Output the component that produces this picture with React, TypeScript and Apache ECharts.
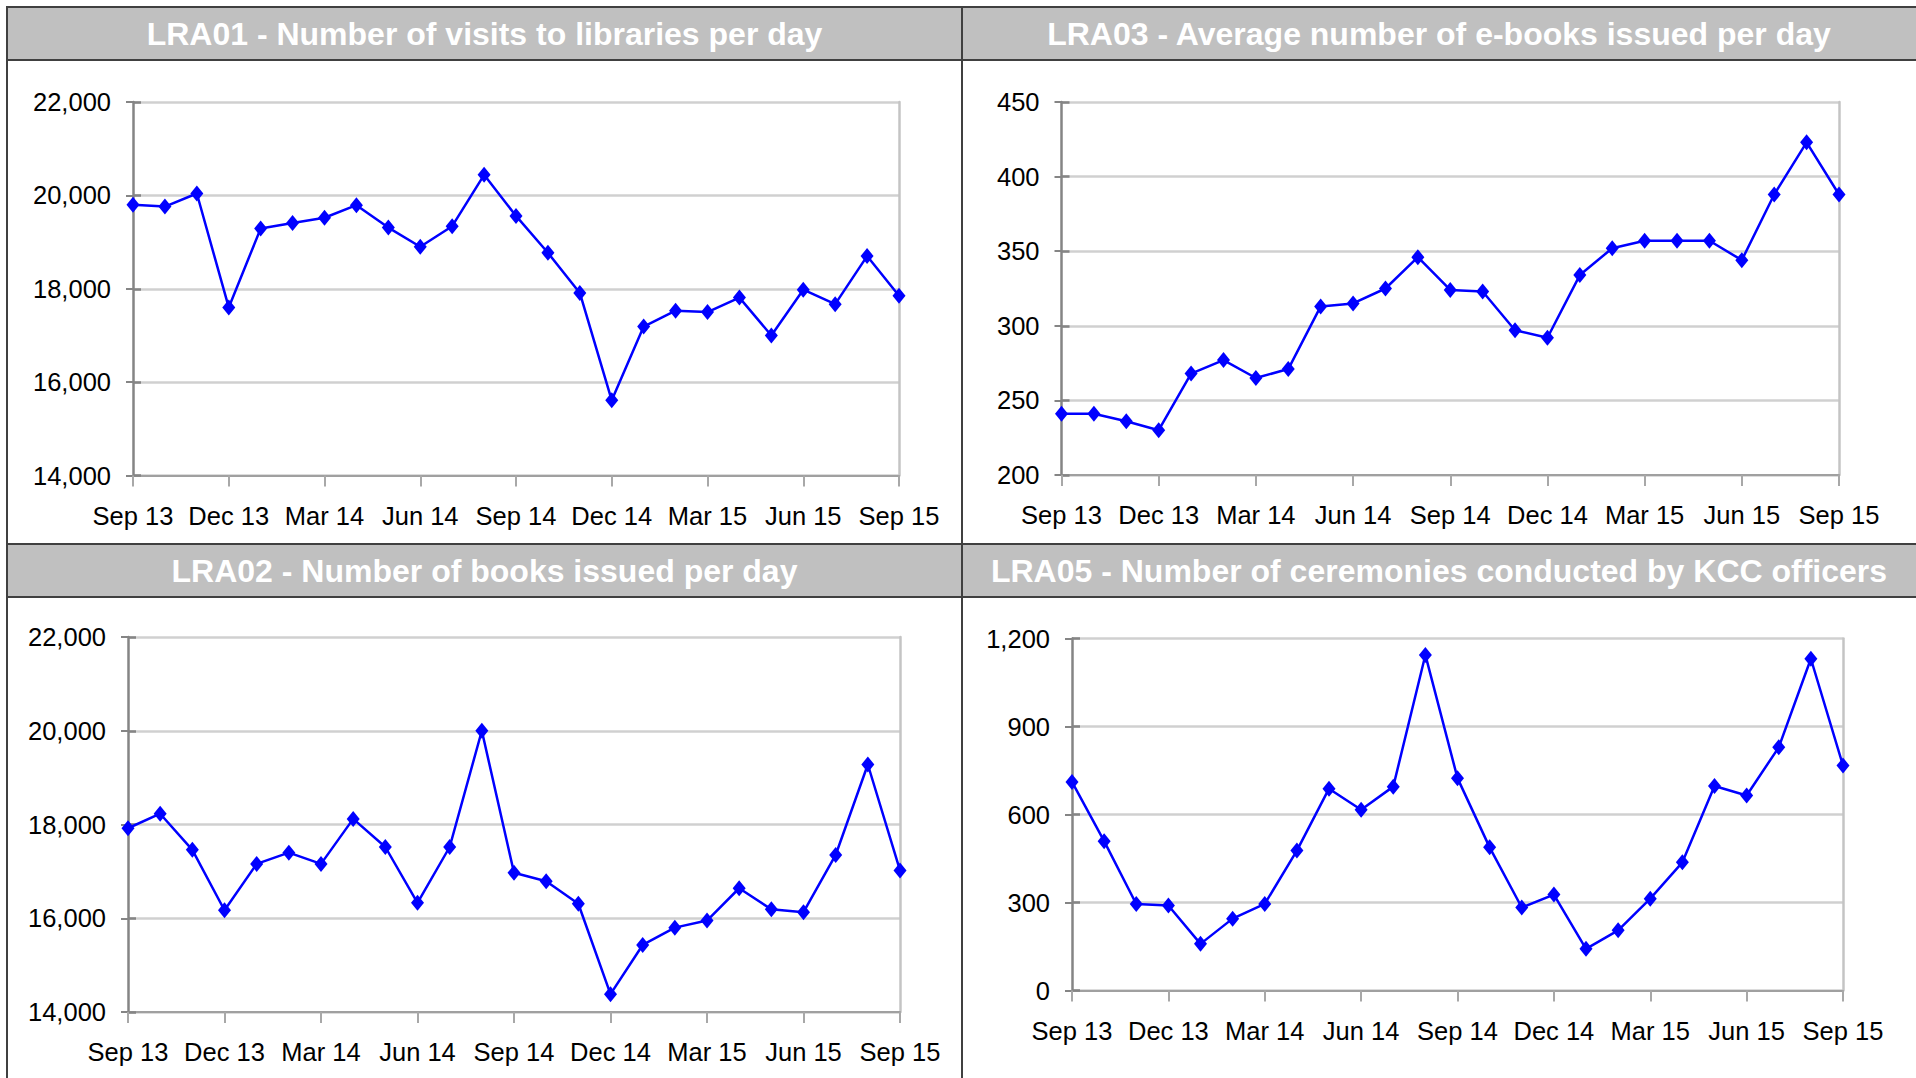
import React, { useEffect, useRef } from "react";
import * as echarts from "echarts";

const months = [
  "Sep 13", "Oct 13", "Nov 13", "Dec 13", "Jan 14", "Feb 14", "Mar 14", "Apr 14", "May 14",
  "Jun 14", "Jul 14", "Aug 14", "Sep 14", "Oct 14", "Nov 14", "Dec 14", "Jan 15", "Feb 15",
  "Mar 15", "Apr 15", "May 15", "Jun 15", "Jul 15", "Aug 15", "Sep 15",
];

const lra01 = [19800, 19760, 20040, 17600, 19290, 19410, 19520, 19790, 19310, 18900, 19340, 20440, 19560, 18770, 17910, 15610, 17190, 17530, 17500, 17810, 17000, 17980, 17670, 18700, 17850];
const lra03 = [241, 241, 236, 230, 268, 277, 265, 271, 313, 315, 325, 346, 324, 323, 297, 292, 334, 352, 357, 357, 357, 344, 388, 423, 388];
const lra02 = [17920, 18230, 17460, 16170, 17160, 17400, 17160, 18120, 17520, 16330, 17520, 20000, 16970, 16790, 16310, 14380, 15430, 15800, 15950, 16640, 16190, 16130, 17350, 19280, 17020];
const lra05 = [711, 509, 295, 290, 159, 245, 295, 477, 688, 616, 695, 1144, 724, 488, 283, 327, 142, 205, 313, 437, 697, 665, 829, 1131, 767];

const titles = [
  "LRA01 - Number of visits to libraries per day",
  "LRA03 - Average number of e-books issued per day",
  "LRA02 - Number of books issued per day",
  "LRA05 - Number of ceremonies conducted by KCC officers",
];
const seriesData = [lra01, lra03, lra02, lra05];
const yMin = [14000, 200, 14000, 0];
const yMax = [22000, 450, 22000, 1200];
const yStep = [2000, 50, 2000, 300];

const FONT = "'Liberation Sans', Arial, sans-serif";

export default function App() {
  const ref = useRef<HTMLDivElement>(null);
  useEffect(() => {
    if (!ref.current) return;
    const chart = echarts.init(ref.current, null, { renderer: "svg" });

    const grids = [
      { left: 133, top: 102, width: 766, height: 373.5 },
      { left: 1061.5, top: 102, width: 777.5, height: 373 },
      { left: 128, top: 637, width: 772, height: 375 },
      { left: 1072, top: 638.5, width: 771, height: 352 },
    ];

    const xAxes: any[] = [];
    const yAxes: any[] = [];
    const series: any[] = [];
    grids.forEach((g, i) => {
      xAxes.push({
        type: "category",
        gridIndex: i,
        data: months,
        boundaryGap: false,
        axisLine: { lineStyle: { color: "#a0a0a0", width: 2 } },
        axisTick: { show: true, interval: 2, length: 11, lineStyle: { color: "#a8a8a8", width: 2 } },
        axisLabel: { interval: 2, color: "#000", fontSize: 25.5, fontFamily: FONT, margin: 27 },
        splitLine: { show: false },
      });
      const fmt = (v: number) => v.toLocaleString("en-US");
      yAxes.push({
        type: "value",
        gridIndex: i,
        min: yMin[i],
        max: yMax[i],
        interval: yStep[i],
        position: "left",
        axisLine: { show: true, lineStyle: { color: "#858585", width: 2.5 } },
        axisTick: { show: true, length: 7, lineStyle: { color: "#858585", width: 2 } },
        axisLabel: { color: "#000", fontSize: 25.5, fontFamily: FONT, margin: 22, formatter: fmt },
        splitLine: { show: true, lineStyle: { color: "#d0d0d0", width: 2.5 } },
      });
      yAxes.push({
        type: "value",
        gridIndex: i,
        min: yMin[i],
        max: yMax[i],
        interval: yStep[i],
        position: "left",
        axisLine: { show: false },
        axisTick: { show: true, inside: true, length: 8, lineStyle: { color: "#858585", width: 2.5 } },
        axisLabel: { show: false },
        splitLine: { show: false },
      });
      yAxes.push({
        type: "value",
        gridIndex: i,
        min: yMin[i],
        max: yMax[i],
        interval: yStep[i],
        position: "right",
        axisLine: { show: true, lineStyle: { color: "#c4c4c4", width: 2.5 } },
        axisTick: { show: false },
        axisLabel: { show: false },
        splitLine: { show: false },
      });
      series.push({
        type: "line",
        xAxisIndex: i,
        yAxisIndex: i * 3,
        data: seriesData[i],
        symbol: "diamond",
        symbolSize: [13, 16],
        showSymbol: true,
        itemStyle: { color: "#0000ff" },
        lineStyle: { color: "#0000ff", width: 2.5 },
        z: 5,
      });
    });

    const dark = "#404040";
    const graphic: any[] = [
      { type: "rect", shape: { x: 7, y: 7, width: 1909, height: 53 }, style: { fill: "#c0c0c0" }, z: 0 },
      { type: "rect", shape: { x: 7, y: 544, width: 1909, height: 53 }, style: { fill: "#c0c0c0" }, z: 0 },
      { type: "line", shape: { x1: 7, y1: 7, x2: 1916, y2: 7 }, style: { stroke: dark, lineWidth: 2 }, z: 1 },
      { type: "line", shape: { x1: 7, y1: 60, x2: 1916, y2: 60 }, style: { stroke: dark, lineWidth: 2 }, z: 1 },
      { type: "line", shape: { x1: 7, y1: 544, x2: 1916, y2: 544 }, style: { stroke: dark, lineWidth: 2 }, z: 1 },
      { type: "line", shape: { x1: 7, y1: 597, x2: 1916, y2: 597 }, style: { stroke: dark, lineWidth: 2 }, z: 1 },
      { type: "line", shape: { x1: 7, y1: 6, x2: 7, y2: 1078 }, style: { stroke: dark, lineWidth: 2 }, z: 1 },
      { type: "line", shape: { x1: 962, y1: 6, x2: 962, y2: 1078 }, style: { stroke: dark, lineWidth: 2 }, z: 1 },
    ];
    const titlePos = [
      [484.5, 34],
      [1439, 34],
      [484.5, 571],
      [1439, 571],
    ];
    titles.forEach((t, i) => {
      graphic.push({
        type: "text",
        x: titlePos[i][0],
        y: titlePos[i][1],
        z: 2,
        style: {
          text: t,
          fill: "#ffffff",
          fontSize: 32,
          fontWeight: "bold",
          fontFamily: FONT,
          textAlign: "center",
          textVerticalAlign: "middle",
        },
      });
    });

    chart.setOption({
      animation: false,
      backgroundColor: "#ffffff",
      grid: grids.map((g) => ({ ...g, containLabel: false })),
      xAxis: xAxes,
      yAxis: yAxes,
      series,
      graphic,
    });
    return () => chart.dispose();
  }, []);

  return (
    <div
      ref={ref}
      style={{ position: "absolute", left: 0, top: 0, width: 1916, height: 1078 }}
    />
  );
}
